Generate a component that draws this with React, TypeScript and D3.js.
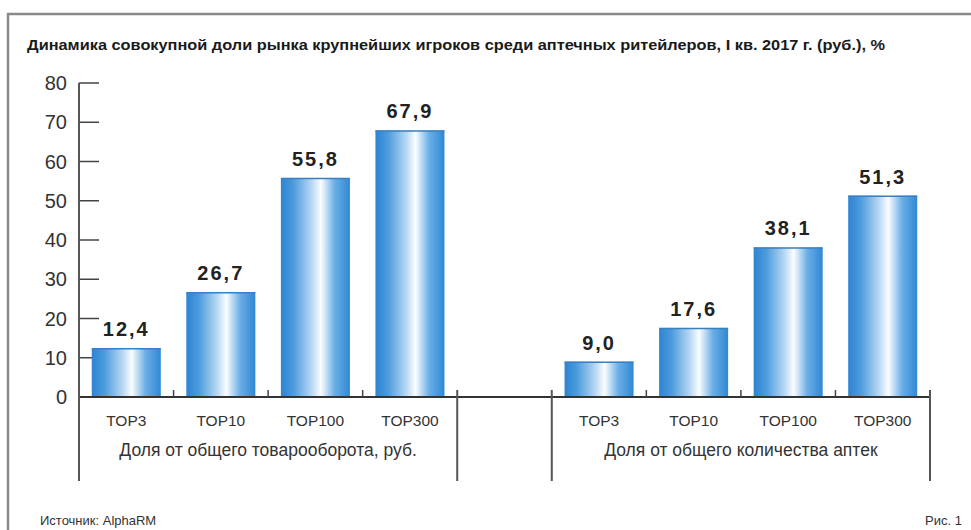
import React from "react";
import * as d3 from "d3";

const title = "Динамика совокупной доли рынка крупнейших игроков среди аптечных ритейлеров, I кв. 2017 г. (руб.), %";
const categories = ["TOP3", "TOP10", "TOP100", "TOP300"];
const groupLabels = ["Доля от общего товарооборота, руб.", "Доля от общего количества аптек"];
const turnoverValues = [12.4, 26.7, 55.8, 67.9];
const pharmacyValues = [9.0, 17.6, 38.1, 51.3];
const yTicks = [0, 10, 20, 30, 40, 50, 60, 70, 80];
const sourceText = "Источник: AlphaRM";
const figText = "Рис. 1";

const W = 971;
const H = 530;

export default function App() {
  const slots = d3.range(9).map(String);
  const x = d3.scaleBand<string>().domain(slots).range([79, 930]).padding(0);
  const y = d3.scaleLinear().domain([0, 80]).range([397, 83]);
  const step = x.step();
  const barW = step * 0.73;

  const bars = [
    ...turnoverValues.map((v, i) => ({ v, slot: String(i), cat: categories[i] })),
    ...pharmacyValues.map((v, i) => ({ v, slot: String(i + 5), cat: categories[i] })),
  ];
  const fmt = (v: number) => v.toFixed(1).replace(".", ",");

  const x0 = x.range()[0];
  const x1 = x.range()[1];
  const boundaries = [x0, x("4")!, x("5")!, x1];
  const smallTicks = [1, 2, 3, 6, 7, 8].map((i) => x(String(i))!);

  const g1c = (x("0")! + x("3")! + step) / 2;
  const g2c = (x("5")! + x("8")! + step) / 2;

  const font = "'Liberation Sans', Arial, sans-serif";
  const narrow = "'Liberation Sans Narrow', 'Liberation Sans', Arial, sans-serif";

  return (
    <svg width={W} height={H} style={{ position: "absolute", left: 0, top: 0, background: "#fff" }}>
      <defs>
        <linearGradient id="barGrad" x1="0" x2="1" y1="0" y2="0">
          <stop offset="0" stopColor="#2d84d1" />
          <stop offset="0.18" stopColor="#4c9bdd" />
          <stop offset="0.45" stopColor="#b9d8f3" />
          <stop offset="0.58" stopColor="#fbfdff" />
          <stop offset="0.78" stopColor="#6aaee6" />
          <stop offset="1" stopColor="#2f88d4" />
        </linearGradient>
      </defs>
      {/* frame */}
      <line x1={8} x2={8} y1={13} y2={H} stroke="#8a8a8a" strokeWidth={2.5} />
      <line x1={7} x2={W} y1={14} y2={14} stroke="#8a8a8a" strokeWidth={2.5} />
      {/* title */}
      <text x={27} y={50} fontFamily={narrow} fontWeight="bold" fontSize={14} fill="#1a1a1a" textLength={858} lengthAdjust="spacingAndGlyphs">
        {title}
      </text>
      {/* y axis */}
      <line x1={x0} x2={x0} y1={y(80)} y2={481} stroke="#444" strokeWidth={2} />
      {yTicks.map((t) => (
        <g key={t}>
          {t > 0 && <line x1={x0} x2={x0 + 20} y1={y(t)} y2={y(t)} stroke="#444" strokeWidth={1.5} />}
          <text x={67} y={y(t)} dy="0.36em" textAnchor="end" fontFamily={font} fontSize={20} fill="#333">
            {t}
          </text>
        </g>
      ))}
      {/* bars */}
      {bars.map((b, i) => {
        const cx = x(b.slot)! + step / 2;
        return (
          <g key={i}>
            <rect x={cx - barW / 2} y={y(b.v)} width={barW} height={y(0) - y(b.v)} fill="url(#barGrad)" />
            <line x1={cx - barW / 2} x2={cx + barW / 2} y1={y(b.v) + 0.5} y2={y(b.v) + 0.5} stroke="#3a7fc0" strokeWidth={1.5} />
            <text x={cx} y={y(b.v) - 12} textAnchor="middle" fontFamily={font} fontWeight="bold" fontSize={20} letterSpacing={2} fill="#222">
              {fmt(b.v)}
            </text>
            <text x={cx} y={426} textAnchor="middle" fontFamily={font} fontSize={15.5} fill="#333">
              {b.cat}
            </text>
          </g>
        );
      })}
      {/* baseline */}
      <line x1={x0} x2={x1} y1={y(0)} y2={y(0)} stroke="#333" strokeWidth={2} />
      {smallTicks.map((sx, i) => (
        <line key={i} x1={sx} x2={sx} y1={y(0) - 7} y2={y(0)} stroke="#444" strokeWidth={1.5} />
      ))}
      {boundaries.map((bx, i) => (
        <line key={i} x1={bx} x2={bx} y1={i === 0 ? y(80) : y(0) - 7} y2={481} stroke="#555" strokeWidth={2} />
      ))}
      {/* group labels */}
      <text x={g1c} y={456} textAnchor="middle" fontFamily={font} fontSize={17.5} fill="#333">
        {groupLabels[0]}
      </text>
      <text x={g2c} y={456} textAnchor="middle" fontFamily={font} fontSize={17.5} fill="#333">
        {groupLabels[1]}
      </text>
      {/* footer */}
      <text x={40} y={525} fontFamily={narrow} fontSize={13} fill="#333">
        {sourceText}
      </text>
      <text x={962} y={525} textAnchor="end" fontFamily={narrow} fontSize={13} fill="#333">
        {figText}
      </text>
    </svg>
  );
}
